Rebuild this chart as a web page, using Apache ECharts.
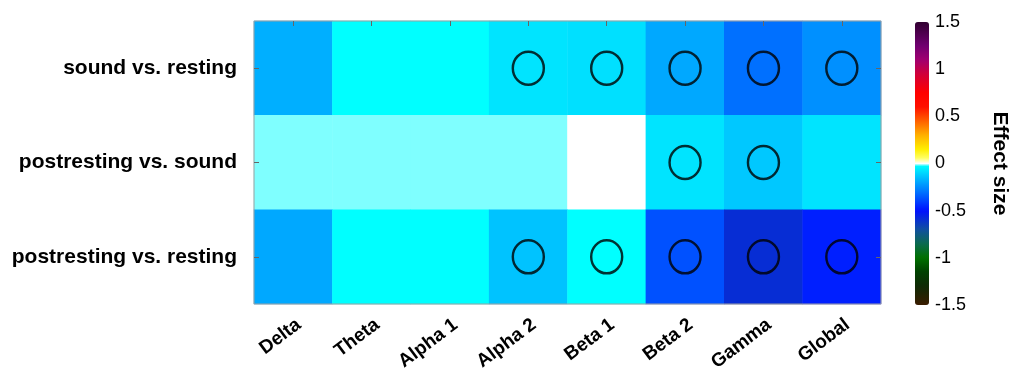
<!DOCTYPE html>
<html><head><meta charset="utf-8">
<script src="https://cdn.jsdelivr.net/npm/echarts@6/dist/echarts.min.js"></script>
<style>html,body{margin:0;padding:0;background:#fff}#c{width:1013px;height:374px}</style>
</head><body><div id="c"></div>
<script>
const bands = ['Delta','Theta','Alpha 1','Alpha 2','Beta 1','Beta 2','Gamma','Global'];
const comparisons = ['sound vs. resting','postresting vs. sound','postresting vs. resting'];
const effSoundRest = [-0.18,-0.02,-0.02,-0.074,-0.082,-0.195,-0.307,-0.243];
const effPostSound = [-0.01,-0.01,-0.01,-0.01,0.0,-0.074,-0.13,-0.074];
const effPostRest = [-0.195,-0.02,-0.02,-0.14,-0.02,-0.37,-0.59,-0.47];
const sigSoundRest = [0,0,0,1,1,1,1,1];
const sigPostSound = [0,0,0,0,0,1,1,0];
const sigPostRest = [0,0,0,1,1,1,1,1];
const colorbarMin = -1.5, colorbarMax = 1.5, colorbarStep = 0.5;

// colormap anchors (value, colour)
const cmapAnchors = [
  [-1.5,'#3a1c00'],[-1.3,'#0f2a05'],[-1.15,'#004000'],[-1.0,'#007000'],[-0.85,'#0a6a50'],
  [-0.7,'#1050a0'],[-0.5,'#0010ff'],[-0.02,'#00ffff'],[0,'#ffffff'],[0.06,'#ffff60'],
  [0.15,'#ffee00'],[0.3,'#ffb000'],[0.45,'#ff6000'],[0.6,'#ff1000'],[0.75,'#ff0000'],
  [0.95,'#d0003a'],[1.1,'#a00070'],[1.25,'#700070'],[1.5,'#300030']
];
function hex2rgb(h){return [parseInt(h.substr(1,2),16),parseInt(h.substr(3,2),16),parseInt(h.substr(5,2),16)];}
function cmap(v){
  for(let i=0;i<cmapAnchors.length-1;i++){
    const [a,ca]=cmapAnchors[i],[b,cb]=cmapAnchors[i+1];
    if(v>=a-1e-9&&v<=b+1e-9){const t=(v-a)/(b-a);const p=hex2rgb(ca),q=hex2rgb(cb);
      return 'rgb('+p.map((x,k)=>Math.round(x+(q[k]-x)*t)).join(',')+')';}
  }
  return cmapAnchors[cmapAnchors.length-1][1];
}
const cmapColors=[];
for(let i=0;i<=300;i++){cmapColors.push(cmap(colorbarMin+i*(colorbarMax-colorbarMin)/300));}

const rows=[effSoundRest,effPostSound,effPostRest];
const sigs=[sigSoundRest,sigPostSound,sigPostRest];
const heat=[],circ=[];
rows.forEach((r,y)=>r.forEach((v,x)=>{heat.push([x,y,v]); if(sigs[y][x]) circ.push([x,y]);}));

const chart=echarts.init(document.getElementById('c'));
const F='Liberation Sans, Arial, sans-serif';
chart.setOption({
  animation:false,
  textStyle:{fontFamily:F},
  grid:[
    {left:254,right:132,top:21,bottom:70,show:true,borderColor:'#a0a0a0',borderWidth:1,backgroundColor:'transparent',z:5},
    {left:915,top:22,width:14,height:283,show:false}
  ],
  xAxis:[
    {type:'category',data:bands,gridIndex:0,position:'bottom',
     axisLine:{show:false},axisTick:{show:false},splitLine:{show:false},
     axisLabel:{rotate:37,interval:0,fontSize:19,fontWeight:'bold',color:'#000',fontFamily:F,margin:11,
       align:'right',verticalAlign:'top'}},
    {type:'category',data:bands,gridIndex:0,position:'top',
     axisLine:{show:false},axisTick:{show:true,inside:true,alignWithLabel:true,length:5,lineStyle:{color:'#666'}},axisLabel:{show:false},z:6},
    {type:'value',gridIndex:1,show:false,min:0,max:1}
  ],
  yAxis:[
    {type:'category',data:comparisons,gridIndex:0,inverse:true,position:'left',
     axisLine:{show:false},axisTick:{show:true,inside:true,alignWithLabel:true,length:5,lineStyle:{color:'#666'}},
     axisLabel:{fontSize:21,fontWeight:'bold',color:'#000',fontFamily:F,margin:17},z:6},
    {type:'category',data:comparisons,gridIndex:0,inverse:true,position:'right',
     axisLine:{show:false},axisTick:{show:true,inside:true,alignWithLabel:true,length:5,lineStyle:{color:'#666'}},axisLabel:{show:false},z:6},
    {type:'value',gridIndex:1,position:'right',min:colorbarMin,max:colorbarMax,interval:colorbarStep,
     axisLine:{show:false},axisTick:{show:false},splitLine:{show:false},
     axisLabel:{fontSize:18,color:'#000',fontFamily:F,margin:6,formatter:v=>String(v)},
     name:'Effect size',nameLocation:'middle',nameRotate:-90,nameGap:60,
     nameTextStyle:{fontSize:21,fontWeight:'bold',color:'#000',fontFamily:F}}
  ],
  visualMap:{type:'continuous',min:colorbarMin,max:colorbarMax,seriesIndex:0,calculable:false,
    left:915,top:22,itemWidth:14,itemHeight:283,padding:0,text:['',''],showLabel:false,
    inRange:{color:cmapColors}},
  series:[
    {type:'heatmap',xAxisIndex:0,yAxisIndex:0,data:heat,itemStyle:{borderWidth:0}},
    {type:'scatter',xAxisIndex:0,yAxisIndex:0,data:circ,symbol:'circle',symbolSize:[31,33],
     itemStyle:{color:'rgba(0,0,0,0)',borderColor:'#000',borderWidth:2.5},z:10}
  ]
});
</script></body></html>
